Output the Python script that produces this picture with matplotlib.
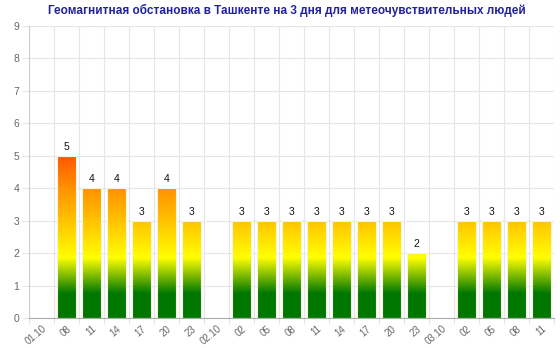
import matplotlib
matplotlib.use("Agg")
import matplotlib.pyplot as plt
import numpy as np
from matplotlib.colors import LinearSegmentedColormap

TITLE = "Геомагнитная обстановка в Ташкенте на 3 дня для метеочувствительных людей"

labels = ["01.10", "08", "11", "14", "17", "20", "23",
          "02.10", "02", "05", "08", "11", "14", "17", "20", "23",
          "03.10", "02", "05", "08", "11"]
kp = [None, 5, 4, 4, 3, 4, 3,
      None, 3, 3, 3, 3, 3, 3, 3, 2,
      None, 3, 3, 3, 3]

Y_MAX = 9
GRAD_TOP = 5.0

# colour depends on absolute kp level, not on bar height
stops = [(0.0, "#007800"), (0.75, "#007800"), (1.85, "#ffff00"),
         (2.2, "#ffec00"), (3.0, "#ffc200"), (4.0, "#ff9100"), (5.0, "#ff5500")]
cmap = LinearSegmentedColormap.from_list(
    "kp", [(v / GRAD_TOP, c) for v, c in stops])

plt.rcParams["font.family"] = ["Liberation Sans", "DejaVu Sans"]

fig = plt.figure(figsize=(5.6, 3.48), dpi=100)
ax = fig.add_axes([29 / 560, 30 / 348, 525 / 560, 292 / 348])

x = np.arange(len(labels))
grad = np.linspace(0, 1, 256).reshape(-1, 1)
width = 0.74

for xi, v in zip(x, kp):
    if not v:
        continue
    bar = ax.bar(xi, v, width, color="none", edgecolor="#f4f4e0",
                 linewidth=0.8, zorder=3)[0]
    im = ax.imshow(grad, extent=(xi - width / 2, xi + width / 2, 0, GRAD_TOP),
                   origin="lower", cmap=cmap, aspect="auto", zorder=2,
                   interpolation="bilinear")
    im.set_clip_path(bar)
    ax.text(xi, v + 0.12, str(v), ha="center", va="bottom",
            fontsize=7.5, color="#111111", zorder=4)

ax.set_xlim(-0.5, len(labels) - 0.5)
ax.set_ylim(0, Y_MAX)

ax.set_yticks(range(0, Y_MAX + 1))
ax.set_xticks(x)
ax.set_xticklabels(labels, rotation=40, ha="right", rotation_mode="anchor")
ax.set_xticks(np.arange(-0.5, len(labels)), minor=True)

ax.tick_params(axis="x", which="major", length=0, labelsize=7,
               labelcolor="#666666", pad=4)
ax.tick_params(axis="x", which="minor", length=4, color="#e6e6e6", width=0.8)
ax.tick_params(axis="y", length=5, color="#e6e6e6", width=0.8,
               labelsize=7.5, labelcolor="#666666", pad=2)

ax.grid(axis="y", color="#e6e6e6", linewidth=0.8, zorder=0)
ax.grid(axis="x", which="minor", color="#e6e6e6", linewidth=0.8, zorder=0)
ax.set_axisbelow(True)

for side in ("top", "right"):
    ax.spines[side].set_visible(False)
ax.spines["left"].set_color("#cccccc")
ax.spines["bottom"].set_color("#aaaaaa")
ax.spines["left"].set_linewidth(0.8)
ax.spines["bottom"].set_linewidth(0.8)

fig.text(0.512, 0.988, TITLE, ha="center", va="top", fontsize=8.5,
         fontweight="bold", color="#22229a")

fig.savefig("out.png", dpi=100)
